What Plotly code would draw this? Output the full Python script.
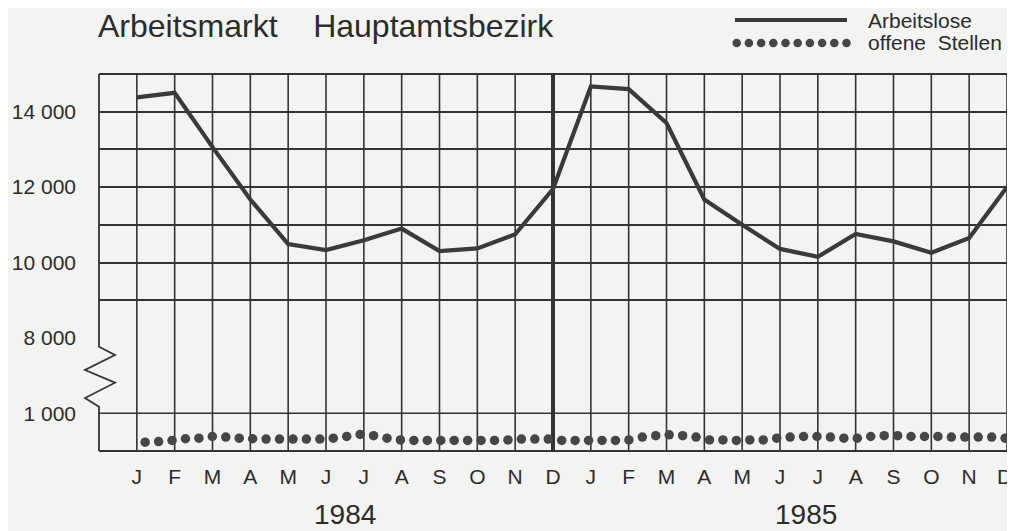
import numpy as np
import plotly.graph_objects as go

# ---------------- data ----------------
months = ["J", "F", "M", "A", "M", "J", "J", "A", "S", "O", "N", "D"] * 2
month_pos = list(range(1, 25))

arbeitslose = [14380, 14500, 13060, 11670, 10490, 10330, 10590, 10900, 10305, 10375, 10750, 11950,
               14670, 14600, 13700, 11670, 11000, 10360, 10150, 10760, 10560, 10260, 10650, 12000]

offene_stellen = [235, 250, 280, 325, 340, 385, 370, 340, 325, 315, 315, 315, 315, 315, 340, 385, 440, 405, 340, 295, 280, 280,
                  280, 280, 280, 280, 280, 295, 315, 315, 315, 280, 280, 280, 280, 280, 295, 370, 405, 430, 405, 370, 295,
                  295, 280, 295, 295, 340, 370, 385, 385, 370, 340, 340, 385, 405, 405, 385, 385, 385, 370, 370, 370, 370, 340]
# offene Stellen drawn as a dotted row from early January 1984 to end of December 1985
stellen_x = np.linspace(1.22, 23.95, len(offene_stellen))

upper_ticks = [8000, 9000, 10000, 11000, 12000, 13000, 14000, 15000]
upper_labels = ["8 000", "", "10 000", "", "12 000", "", "14 000", ""]
lower_ticks = [0, 1000]
lower_labels = ["", "1 000"]
years = ["1984", "1985"]
year_pos = [6.5, 18.69]

# ---------------- style ----------------
OFF = 8                       # page body margin of the browser
W, H = 1015 - OFF, 531 - OFF
L, R, T, B = 99 - OFF, 8, 74 - OFF, 80
PW, PH = W - L - R, H - T - B
BG = "#f3f3f1"
INK = "#2c2c2c"
GRID = "#333333"
FONT = "Liberation Sans, Arial, Helvetica, sans-serif"


def px(xp):
    """screen pixel x -> paper"""
    return (xp - OFF - L) / PW


def py(yp):
    """screen pixel y -> paper"""
    return (H - B - (yp - OFF)) / PH


fig = go.Figure()
fig.add_trace(go.Scatter(x=month_pos, y=arbeitslose, xaxis="x2", yaxis="y2", mode="lines",
                         line=dict(color="#3a3a3a", width=4.2), name="Arbeitslose",
                         showlegend=False, hoverinfo="skip"))
fig.add_trace(go.Scatter(x=stellen_x, y=offene_stellen, xaxis="x", yaxis="y", mode="markers",
                         marker=dict(color="#464646", size=9.5), name="offene Stellen",
                         showlegend=False, hoverinfo="skip"))

shapes = []
# vertical month lines through the whole chart (including the axis break)
for m in month_pos:
    shapes.append(dict(type="line", xref="x", yref="paper", x0=m, x1=m, y0=0, y1=1,
                       line=dict(color=GRID, width=4 if m == 12 else 1.6), layer="below"))
# frame top / bottom
shapes.append(dict(type="line", xref="paper", yref="paper", x0=0, x1=1, y0=1, y1=1,
                   line=dict(color=GRID, width=1.8), layer="below"))
shapes.append(dict(type="line", xref="paper", yref="paper", x0=0, x1=1, y0=0, y1=0,
                   line=dict(color=GRID, width=1.8), layer="below"))
# left frame with zigzag break (paper coordinates so it is not clipped)
zz = [(99, 74), (99, 346.7), (115, 355), (85, 370), (115, 382.7),
      (85, 398), (99, 406.7), (99, 451)]
path = "M " + " L ".join(f"{px(x):.5f},{py(y):.5f}" for x, y in zz)
shapes.append(dict(type="path", xref="paper", yref="paper", path=path,
                   line=dict(color=GRID, width=1.8)))
# horizontal 1000 line (lower panel top)
shapes.append(dict(type="line", xref="paper", yref="paper", x0=0, x1=1, y0=0.1, y1=0.1,
                   line=dict(color=GRID, width=1.6), layer="below"))

# legend samples
shapes.append(dict(type="line", xref="paper", yref="paper", x0=px(735), x1=px(847),
                   y0=py(20), y1=py(20), line=dict(color="#3a3a3a", width=4.2)))
r = 4.3
for i in range(10):
    cx = 736.7 + i * 12.2
    shapes.append(dict(type="circle", xref="paper", yref="paper",
                       x0=px(cx - r), x1=px(cx + r), y0=py(43 + r), y1=py(43 - r),
                       fillcolor="#464646", line=dict(width=0)))

annotations = [
    dict(text="Arbeitsmarkt&nbsp;&nbsp;&nbsp;&nbsp;Hauptamtsbezirk", xref="paper", yref="paper",
         x=px(96), y=py(26), xanchor="left", yanchor="middle", showarrow=False,
         font=dict(size=32, color=INK, family=FONT)),
    dict(text="Arbeitslose", xref="paper", yref="paper", x=px(866), y=py(20),
         xanchor="left", yanchor="middle", showarrow=False,
         font=dict(size=21, color=INK, family=FONT)),
    dict(text="offene&nbsp;&nbsp;Stellen", xref="paper", yref="paper", x=px(866), y=py(43),
         xanchor="left", yanchor="middle", showarrow=False,
         font=dict(size=21, color=INK, family=FONT)),
    # last month label nudged inward so it stays inside the page
    dict(text=months[-1], xref="paper", yref="paper", x=px(1004.5), y=py(476),
         xanchor="center", yanchor="middle", showarrow=False,
         font=dict(size=21, color=INK, family=FONT)),
]
for yr, pos in zip(years, year_pos):
    annotations.append(dict(text=yr, xref="x", yref="paper", x=pos, y=py(514),
                            xanchor="center", yanchor="middle", showarrow=False,
                            font=dict(size=28, color=INK, family=FONT)))

tick_text = months[:-1] + [""]

fig.update_layout(
    width=W, height=H, margin=dict(l=L, r=R, t=T, b=B, autoexpand=False),
    paper_bgcolor=BG, plot_bgcolor=BG,
    font=dict(family=FONT, color=INK),
    showlegend=False,
    shapes=shapes, annotations=annotations,
    xaxis=dict(domain=[0, 1], range=[0, 24], anchor="y", tickvals=month_pos, ticktext=tick_text,
               showgrid=False, zeroline=False, showline=False, ticks="", ticklabelstandoff=11,
               automargin=False, tickfont=dict(size=21, color=INK, family=FONT)),
    xaxis2=dict(domain=[0, 1], range=[0, 24], anchor="y2", matches="x", showticklabels=False,
                showgrid=False, zeroline=False, showline=False, ticks="", automargin=False),
    yaxis=dict(domain=[0, 0.1], range=[0, 1000], anchor="x", tickvals=lower_ticks,
               ticktext=lower_labels, showgrid=True, gridcolor=GRID, gridwidth=1.6,
               zeroline=False, showline=False, ticks="", ticklabelstandoff=22, automargin=False,
               tickfont=dict(size=21, color=INK, family=FONT)),
    yaxis2=dict(domain=[0.3, 1], range=[8000, 15000], anchor="x2", tickvals=upper_ticks,
                ticktext=upper_labels, showgrid=True, gridcolor=GRID, gridwidth=1.6,
                zeroline=False, showline=False, ticks="", ticklabelstandoff=22, automargin=False,
                tickfont=dict(size=21, color=INK, family=FONT)),
)

fig.write_html("out.html")
